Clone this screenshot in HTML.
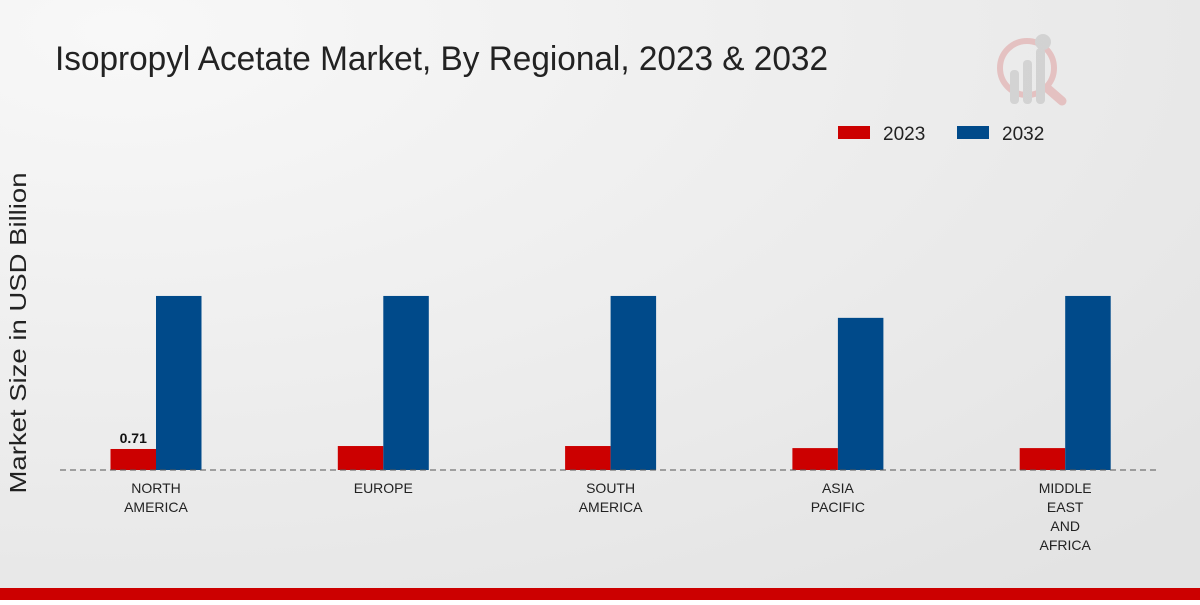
<!DOCTYPE html>
<html><head><meta charset="utf-8"><style>
body{margin:0;width:1200px;height:600px;overflow:hidden;font-family:"Liberation Sans",sans-serif}
</style></head><body>
<svg id="chart" width="1200" height="600" xmlns="http://www.w3.org/2000/svg">
<defs><radialGradient id="bg" cx="0.1" cy="0.05" r="1.2"><stop offset="0" stop-color="#f8f8f8"/><stop offset="1" stop-color="#e3e3e3"/></radialGradient></defs>
<rect width="1200" height="600" fill="url(#bg)"/>
<text x="55" y="70" font-size="34" fill="#222" textLength="773" lengthAdjust="spacingAndGlyphs">Isopropyl Acetate Market, By Regional, 2023 &amp; 2032</text>
<g opacity="0.55">
<circle cx="1027" cy="68" r="27" fill="none" stroke="#e0a0a0" stroke-width="6"/>
<line x1="1047" y1="88" x2="1062" y2="101" stroke="#e0a0a0" stroke-width="9" stroke-linecap="round"/>
<rect x="1010" y="70" width="9" height="34" rx="4" fill="#c0c0c0"/><rect x="1023" y="60" width="9" height="44" rx="4" fill="#c0c0c0"/><rect x="1036" y="48" width="9" height="56" rx="4" fill="#c0c0c0"/>
<circle cx="1043" cy="42" r="8" fill="#c0c0c0"/>
</g>
<g>
<rect x="838" y="126" width="32" height="13" fill="#cc0000"/>
<text x="883" y="140" font-size="19" fill="#222">2023</text>
<rect x="957" y="126" width="32" height="13" fill="#004a8a"/>
<text x="1002" y="140" font-size="19" fill="#222">2032</text>
</g>
<text transform="translate(26,333) rotate(-90)" text-anchor="middle" font-size="23" fill="#222" textLength="321" lengthAdjust="spacingAndGlyphs">Market Size in USD Billion</text>
<g id="bars"></g>
<line x1="60" y1="470" x2="1160" y2="470" stroke="#555" stroke-dasharray="6,4"/>
<g id="labels"></g>
<rect x="0" y="588" width="1200" height="12" fill="#cc0000"/>
</svg>
<script>
const categories=[["NORTH","AMERICA"],["EUROPE"],["SOUTH","AMERICA"],["ASIA","PACIFIC"],["MIDDLE","EAST","AND","AFRICA"]];
const values2023=[0.71,0.81,0.81,0.74,0.74];
const values2032=[5.88,5.88,5.88,5.14,5.88];
const ns="http://www.w3.org/2000/svg";
const base=470,scale=29.6,x0=156,step=227.3,bw=45.5;
const y=v=>base-v*scale;
const bars=document.getElementById('bars'),labels=document.getElementById('labels');
categories.forEach((c,i)=>{
  const cx=x0+i*step;
  [[values2023[i],'#cc0000',cx-bw,'2023'],[values2032[i],'#004a8a',cx,'2032']].forEach(([v,col,x,s])=>{
    const r=document.createElementNS(ns,'rect');
    r.setAttribute('x',x);r.setAttribute('y',y(v));r.setAttribute('width',bw);r.setAttribute('height',base-y(v));r.setAttribute('fill',col);
    
    
    bars.appendChild(r);
  });
  if(i===0){const t=document.createElementNS(ns,'text');
    t.setAttribute('x',cx-bw/2);t.setAttribute('y',y(values2023[0])-6);t.setAttribute('text-anchor','middle');t.setAttribute('font-size','14');t.setAttribute('font-weight','bold');t.setAttribute('fill','#111');
    t.textContent=values2023[0].toFixed(2);
    
    
    labels.appendChild(t);}
  c.forEach((line,j)=>{const t=document.createElementNS(ns,'text');
    t.setAttribute('x',cx);t.setAttribute('y',493+j*19);t.setAttribute('text-anchor','middle');t.setAttribute('font-size','14');t.setAttribute('fill','#222');
    t.textContent=line;
    
    
    labels.appendChild(t);});
});
</script>
</body></html>
